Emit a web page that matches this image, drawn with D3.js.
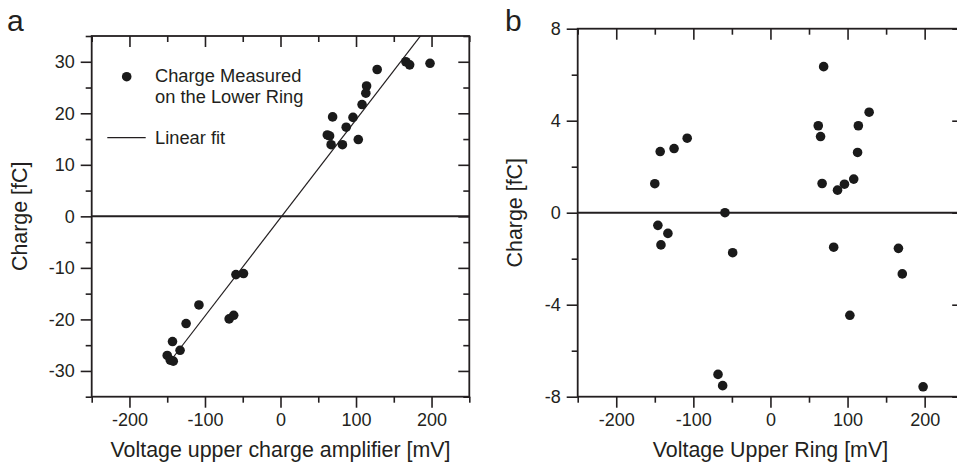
<!DOCTYPE html>
<html>
<head>
<meta charset="utf-8">
<script src="https://cdn.jsdelivr.net/npm/d3@7"></script>
<style>
  body { margin: 0; background: #fff; }
  svg { display: block; font-family: "Liberation Sans", Arial, Helvetica, sans-serif; }
  .axis text { font-size: 18px; fill: #231f20; }
  .axis line { stroke: #231f20; stroke-width: 1.6px; }
  .axis path { display: none; }
  .title { font-size: 21.4px; fill: #231f20; }
  .panel-label { font-size: 30px; fill: #231f20; }
  .legend text { font-size: 18.3px; fill: #231f20; }
</style>
</head>
<body>
<svg width="957" height="466"></svg>
<script>
// voltage on the upper ring / upper charge amplifier [mV]
const voltage = [166, 171, 198, 128, 114, 113, 108, 69, 96, 87, 62, 65, 67, 82, 103,
  -59, -49, -108, -125, -68, -62, -143, -133, -150, -146, -142];
// panel a: charge measured on the lower ring [fC]
const chargeLower = [30.0, 29.4, 29.7, 28.5, 25.3, 23.9, 21.7, 19.3, 19.2, 17.3, 15.8, 15.6, 13.9, 13.9, 14.9,
  -11.3, -11.1, -17.2, -20.8, -19.9, -19.2, -24.3, -26.0, -27.0, -27.9, -28.1];
// panel b: charge vs voltage upper ring [fC]
const chargeUpper = [-1.55, -2.66, -7.57, 4.37, 3.78, 2.62, 1.46, 6.35, 1.24, 0.98, 3.78, 3.31, 1.27, -1.5, -4.46,
  0, -1.74, 3.24, 2.79, -7.03, -7.52, 2.66, -0.9, 1.26, -0.55, -1.4];
// linear fit of panel a
const fitSlope = 0.1905;
const fitIntercept = -0.3;
const fitRange = [-144, 250];

const xTicks = [-200, -100, 0, 100, 200];
const xMinor = [-250, -150, -50, 50, 150, 250];
const yTicksA = [-30, -20, -10, 0, 10, 20, 30];
const yMinorA = [-35, -25, -15, -5, 5, 15, 25, 35];
const yTicksB = [-8, -4, 0, 4, 8];
const yMinorB = [-6, -2, 2, 6];

const svg = d3.select('svg');
const major = 11;
const minor = 6;
const plain = d => String(d); // hyphen minus, like the original

function drawPanel(cfg) {
  const { left, top, width, height } = cfg;
  const g = svg.append('g').attr('transform', `translate(${left},${top})`);

  const x = d3.scaleLinear().domain([-250, 250]).range([0, width]);
  const y = d3.scaleLinear().domain(cfg.yDomain).range([height, 0]);

  // outward ticks: bottom and left
  g.append('g').attr('class', 'axis').attr('transform', `translate(0,${height})`)
    .call(d3.axisBottom(x).tickValues(xTicks).tickSize(major).tickPadding(6).tickFormat(plain));
  g.append('g').attr('class', 'axis').attr('transform', `translate(0,${height})`)
    .call(d3.axisBottom(x).tickValues(xMinor).tickSize(minor).tickFormat(''));
  g.append('g').attr('class', 'axis')
    .call(d3.axisLeft(y).tickValues(cfg.yTicks).tickSize(major).tickPadding(6).tickFormat(plain));
  g.append('g').attr('class', 'axis')
    .call(d3.axisLeft(y).tickValues(cfg.yMinor).tickSize(minor).tickFormat(''));

  // inward ticks: top and right
  g.append('g').attr('class', 'axis')
    .call(d3.axisTop(x).tickValues(xTicks).tickSize(-major).tickFormat(''));
  g.append('g').attr('class', 'axis')
    .call(d3.axisTop(x).tickValues(xMinor).tickSize(-minor).tickFormat(''));
  g.append('g').attr('class', 'axis').attr('transform', `translate(${width},0)`)
    .call(d3.axisRight(y).tickValues(cfg.yTicks).tickSize(-major).tickFormat(''));
  g.append('g').attr('class', 'axis').attr('transform', `translate(${width},0)`)
    .call(d3.axisRight(y).tickValues(cfg.yMinor).tickSize(-minor).tickFormat(''));

  // frame
  g.append('rect')
    .attr('width', width).attr('height', height)
    .attr('fill', 'none').attr('stroke', '#231f20').attr('stroke-width', 1.8);

  // zero line
  g.append('line')
    .attr('x1', 0).attr('x2', width)
    .attr('y1', y(0)).attr('y2', y(0))
    .attr('stroke', '#231f20').attr('stroke-width', 2);

  const clipId = 'clip-' + cfg.name;
  g.append('clipPath').attr('id', clipId)
    .append('rect').attr('width', width).attr('height', height);

  if (cfg.fit) {
    const line = d3.line().x(d => x(d)).y(d => y(fitSlope * d + fitIntercept));
    g.append('path')
      .attr('clip-path', `url(#${clipId})`)
      .attr('d', line(fitRange))
      .attr('fill', 'none').attr('stroke', '#231f20').attr('stroke-width', 1.2);
  }

  g.append('g').attr('clip-path', `url(#${clipId})`)
    .selectAll('circle')
    .data(voltage.map((v, i) => [v, cfg.values[i]]))
    .join('circle')
    .attr('cx', d => x(d[0]))
    .attr('cy', d => y(d[1]))
    .attr('r', 4.8)
    .attr('fill', '#1a1a1a');

  // titles
  g.append('text').attr('class', 'title')
    .attr('x', x(0)).attr('y', 457 - top)
    .attr('text-anchor', 'middle').text(cfg.xTitle);
  g.append('text').attr('class', 'title')
    .attr('transform', `translate(${cfg.yTitleX - left},${height / 2}) rotate(-90)`)
    .attr('text-anchor', 'middle').text('Charge [fC]');
  g.append('text').attr('class', 'panel-label')
    .attr('x', cfg.labelX - left).attr('y', 31 - top).text(cfg.label);

  return { g, x, y };
}

const a = drawPanel({
  name: 'a', left: 91.7, top: 36, width: 377.6, height: 360.7,
  yDomain: [-35, 35], yTicks: yTicksA, yMinor: yMinorA,
  values: chargeLower, fit: true,
  xTitle: 'Voltage upper charge amplifier [mV]',
  yTitleX: 26.5, label: 'a', labelX: 7
});

drawPanel({
  name: 'b', left: 577.7, top: 28.7, width: 385.5, height: 368,
  yDomain: [-8, 8], yTicks: yTicksB, yMinor: yMinorB,
  values: chargeUpper, fit: false,
  xTitle: 'Voltage Upper Ring [mV]',
  yTitleX: 522, label: 'b', labelX: 505
});

// legend of panel a
const leg = a.g.append('g').attr('class', 'legend');
leg.append('circle').attr('cx', 35).attr('cy', 40.7).attr('r', 4.8).attr('fill', '#1a1a1a');
leg.append('text').attr('x', 63.3).attr('y', 46).text('Charge Measured');
leg.append('text').attr('x', 63.3).attr('y', 66.7).text('on the Lower Ring');
leg.append('line').attr('x1', 15.6).attr('x2', 54).attr('y1', 101.7).attr('y2', 101.7)
  .attr('stroke', '#231f20').attr('stroke-width', 1.2);
leg.append('text').attr('x', 63.3).attr('y', 108).text('Linear fit');
</script>
</body>
</html>
